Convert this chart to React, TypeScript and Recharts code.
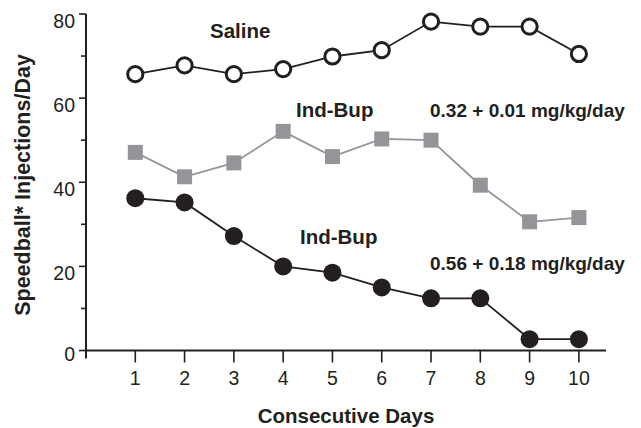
import { Label, Line, LineChart, XAxis, YAxis } from "recharts";

// Speedball self-administration over 10 consecutive days
const days = [1, 2, 3, 4, 5, 6, 7, 8, 9, 10];
const saline = [65.7, 67.8, 65.7, 66.9, 69.9, 71.4, 78.2, 77.0, 77.0, 70.5];
const indBupLow = [47.1, 41.3, 44.6, 52.1, 46.1, 50.3, 50.0, 39.3, 30.6, 31.6];
const indBupHigh = [36.2, 35.2, 27.2, 20.0, 18.5, 15.0, 12.4, 12.4, 2.7, 2.7];

const yTicks = [0, 10, 20, 30, 40, 50, 60, 70, 80];
const xTicks = days;

const data = days.map((d, i) => ({
  day: d,
  saline: saline[i],
  low: indBupLow[i],
  high: indBupHigh[i],
}));

const INK = "#231f20";
const GREY = "#939598";
const FONT = "'Liberation Sans', Arial, Helvetica, sans-serif";

function YTick(props: any) {
  const { x, y, payload } = props;
  const v = payload.value as number;
  const major = v % 20 === 0;
  return (
    <g>
      <line x1={x} x2={x - (major ? 7 : 5)} y1={y} y2={y} stroke={INK} strokeWidth={1.6} />
      {/* the vertical axis runs a little past the origin */}
      {v === 0 && <line x1={x} x2={x} y1={y} y2={y + 8} stroke={INK} strokeWidth={2} />}
      {major && (
        <text
          x={x - 11}
          y={y + (v === 0 ? 10.5 : 13.5)}
          textAnchor="end"
          fontFamily={FONT}
          fontSize={19.5}
          fill={INK}
        >
          {v}
        </text>
      )}
    </g>
  );
}

function OpenCircle(props: any) {
  const { cx, cy } = props;
  if (cx == null || cy == null) return null;
  return <circle cx={cx} cy={cy} r={7.6} fill="#fff" stroke={INK} strokeWidth={3} />;
}

function FilledCircle(props: any) {
  const { cx, cy } = props;
  if (cx == null || cy == null) return null;
  return <circle cx={cx} cy={cy} r={9} fill={INK} />;
}

function GreySquare(props: any) {
  const { cx, cy } = props;
  if (cx == null || cy == null) return null;
  return <rect x={cx - 7.5} y={cy - 7.5} width={15} height={15} fill={GREY} />;
}

const bold = { fontFamily: FONT, fontWeight: 700, fill: INK } as const;

export default function App() {
  return (
    <div style={{ position: "absolute", left: 0, top: 0, background: "#fff" }}>
      <LineChart
        width={641}
        height={428}
        data={data}
        margin={{ top: 14, right: 35, bottom: 5.5, left: 0 }}
      >
        <XAxis
          dataKey="day"
          type="number"
          domain={[0, 10.55]}
          ticks={xTicks}
          allowDataOverflow
          height={72}
          tickSize={12}
          tickMargin={9}
          axisLine={{ stroke: INK, strokeWidth: 2 }}
          tickLine={{ stroke: INK, strokeWidth: 1.6 }}
          tick={{ fill: INK, fontSize: 19.5, fontFamily: FONT }}
        >
          <Label
            content={() => (
              <text x={346} y={423} textAnchor="middle" fontSize={20.5} {...bold}>
                Consecutive Days
              </text>
            )}
          />
        </XAxis>
        <YAxis
          type="number"
          domain={[0, 80]}
          ticks={yTicks}
          interval={0}
          width={86}
          tickSize={0}
          tickMargin={0}
          tickLine={false}
          axisLine={{ stroke: INK, strokeWidth: 2 }}
          tick={<YTick />}
        >
          <Label
            content={() => (
              <text
                x={30}
                y={185}
                textAnchor="middle"
                fontSize={21.5}
                transform="rotate(-90, 30, 185)"
                {...bold}
              >
                Speedball* Injections/Day
              </text>
            )}
          />
        </YAxis>
        <Line
          dataKey="high"
          stroke={INK}
          strokeWidth={1.8}
          dot={<FilledCircle />}
          isAnimationActive={false}
        />
        <Line
          dataKey="low"
          stroke={GREY}
          strokeWidth={1.8}
          dot={<GreySquare />}
          isAnimationActive={false}
        />
        <Line
          dataKey="saline"
          stroke={INK}
          strokeWidth={1.8}
          dot={<OpenCircle />}
          isAnimationActive={false}
        />
        <text x={210} y={37.5} fontSize={20.5} {...bold}>Saline</text>
        <text x={296} y={117} fontSize={20.5} {...bold}>Ind-Bup</text>
        <text x={430} y={117} fontSize={19} {...bold}>0.32 + 0.01 mg/kg/day</text>
        <text x={300} y={243.5} fontSize={20.5} {...bold}>Ind-Bup</text>
        <text x={430} y={269.5} fontSize={19} {...bold}>0.56 + 0.18 mg/kg/day</text>
      </LineChart>
    </div>
  );
}
